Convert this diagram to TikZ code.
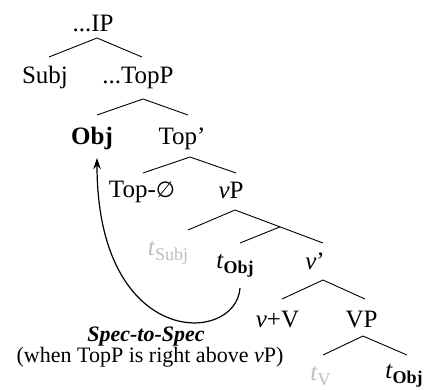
\documentclass[tikz,border=0pt]{standalone}
\usepackage{fontspec}
\setmainfont{Liberation Serif}
\newfontfamily\symfont{DejaVu Sans}
\usetikzlibrary{arrows.meta,calc}
\definecolor{tracegray}{gray}{0.74}
\newcommand\mysub[1]{\raisebox{-5pt}{\fontsize{18}{18}\selectfont #1}}
\tikzset{
  lbl/.style={anchor=base, inner sep=0pt, font=\fontsize{25}{30}\selectfont},
  branch/.style={line width=0.9pt},
  move/.style={line width=1.2pt, -{Stealth[length=11pt,width=7.5pt]}},
  note/.style={anchor=base, inner sep=0pt, font=\fontsize{22}{26}\selectfont}
}
\begin{document}
\begin{tikzpicture}[x=1pt,y=-1pt]
\useasboundingbox (0,0) rectangle (435,389);
% labels
\node[lbl] (ip) at (93,31) {...IP};
\node[lbl] (subj) at (45,83) {Subj};
\node[lbl] (topp) at (138,83) {...TopP};
\node[lbl] (obj) at (92,144) {\textbf{Obj}};
\node[lbl] (topbar) at (182,144) {Top’};
\node[lbl] (tophead) at (142,197) {Top-{\symfont\fontsize{22}{26}\selectfont ∅}};
\node[lbl] (vp) at (231,198) {\textit{v}P};
\node[lbl, text=tracegray] (tsubj) at (168,255) {\textit{t}\mysub{Subj}};
\node[lbl] (tobj) at (235,268) {\textit{t}\mysub{\textbf{Obj}}};
\node[lbl] (vbar) at (315,269) {\textit{v}’};
\node[lbl] (vv) at (277.5,327) {\textit{v}+V};
\node[lbl] (vvp) at (361.5,327) {VP};
\node[lbl, text=tracegray] (tv) at (320.5,380) {\textit{t}\mysub{V}};
\node[lbl] (tobjb) at (404,378) {\textit{t}\mysub{\textbf{Obj}}};
\node[note] (spec) at (146,341) {\textbf{\textit{Spec-to-Spec}}};
\node[note] (when) at (150,362) {(when TopP is right above \textit{v}P)};
% branch end points
\coordinate (ipA) at (97,38);   \coordinate (subjT) at (49,57);   \coordinate (toppT) at (142,57);
\coordinate (toppA) at (143,99); \coordinate (objT) at (97,115);  \coordinate (topbarT) at (188,115);
\coordinate (topbarA) at (190,157); \coordinate (topheadT) at (143,173); \coordinate (vpT) at (236,173);
\coordinate (vpA) at (235,210); \coordinate (tsubjT) at (188,230); \coordinate (vbarT) at (323,243);
\coordinate (vmid) at ($(vpA)!0.511!(vbarT)$); \coordinate (tobjT) at (240,243);
\coordinate (vbarA) at (323,280); \coordinate (vvT) at (282,299); \coordinate (vvpT) at (365,299);
\coordinate (vvpA) at (363,336); \coordinate (tvT) at (323,355); \coordinate (tobjbT) at (407,355);
\draw[branch] (subjT) -- (ipA) -- (toppT);
\draw[branch] (objT) -- (toppA) -- (topbarT);
\draw[branch] (topheadT) -- (topbarA) -- (vpT);
\draw[branch] (tsubjT) -- (vpA) -- (vbarT);
\draw[branch] (vmid) -- (tobjT);
\draw[branch] (vvT) -- (vbarA) -- (vvpT);
\draw[branch] (tvT) -- (vvpA) -- (tobjbT);
% movement arrow
\coordinate (mvS) at (240,288);
\coordinate (mvE) at (97,158);
\draw[move] (mvS) .. controls (236,345) and (97,350) .. (mvE);
\end{tikzpicture}
\end{document}
